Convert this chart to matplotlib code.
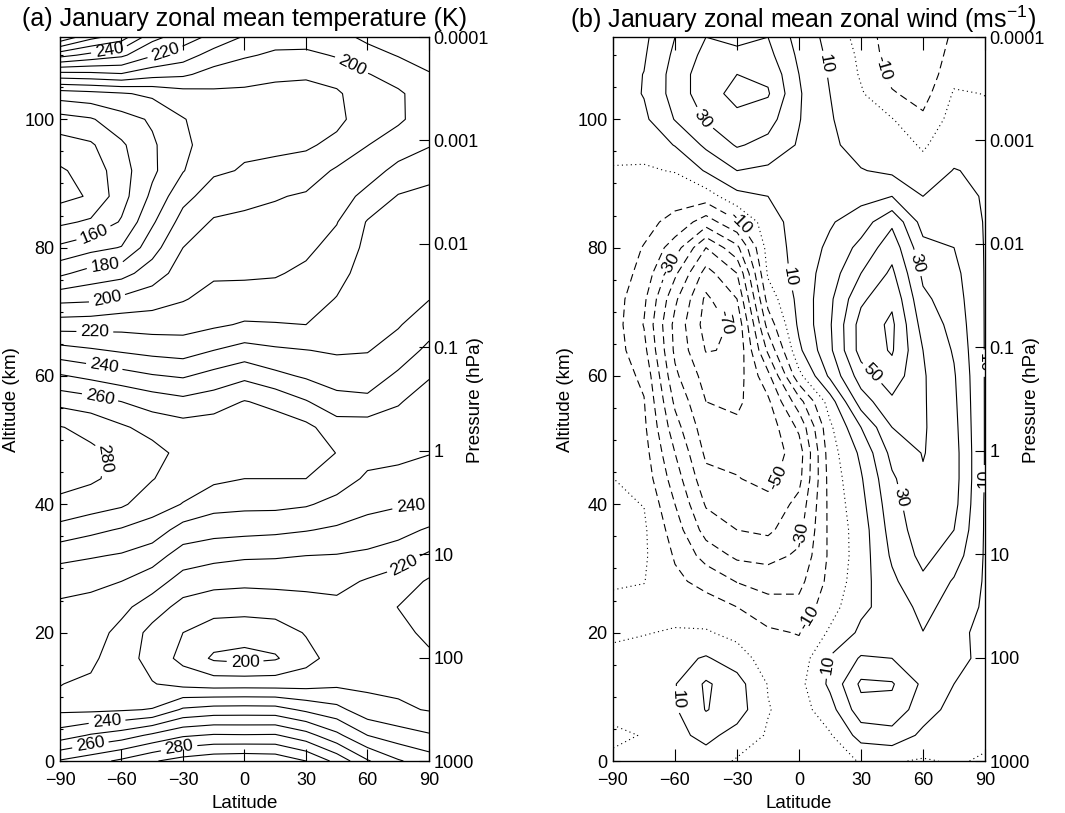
import matplotlib.pyplot as plt
import numpy as np
from matplotlib.ticker import MultipleLocator

plt.rcParams['font.family'] = ['Liberation Sans', 'DejaVu Sans']
plt.rcParams['mathtext.fontset'] = 'custom'
plt.rcParams['mathtext.rm'] = 'Liberation Sans'

# grid: latitude (deg) and log-pressure altitude (km)
lats = [-90, -75, -60, -45, -30, -15, 0, 15, 30, 45, 60, 75, 90]
alts = [0, 4, 8, 12, 16, 20, 24, 28, 32, 36, 40, 44, 48, 52, 56, 60, 64, 68,
        72, 76, 80, 84, 88, 92, 96, 100, 104, 107, 110, 112.8]

# temperature (K), one column per latitude, bottom to top
t_s90 = [271, 245, 228, 230.2, 233, 235.6, 238.4, 243.4, 253, 266.2, 278, 283, 283, 280.5, 267, 251, 233.9, 215.2, 197.1, 177.9, 161.9, 148, 137, 138.8, 145.6, 156.2, 175, 206, 243.6, 278]
t_s75 = [276, 251, 228, 228.5, 232, 234.5, 237.6, 241.8, 251, 262.4, 274.8, 281.5, 282, 277.1, 264.3, 247.5, 231.2, 215.8, 198, 184, 166.8, 151.5, 141, 143.7, 148.6, 159, 176.8, 207, 237, 263]
t_s60 = [282, 255, 229, 225, 224.5, 227, 232.7, 240, 249, 259, 271.5, 277, 278, 271.4, 260, 244, 228.8, 216.4, 202, 186.5, 170.5, 161, 156, 156, 158.5, 166, 179, 209, 232, 255]
t_s45 = [289, 262, 230.5, 220.5, 216.5, 217, 224.8, 234.9, 244.3, 255.9, 264.2, 270.5, 273.5, 266.5, 255.7, 240.8, 226.8, 215.8, 205.3, 194.9, 186, 178.5, 172.3, 168, 168.5, 171.3, 182, 203.6, 221, 233]
t_s30 = [294, 268.7, 241.5, 217.1, 207, 210, 216.7, 225.7, 235.6, 245.7, 259.6, 264.5, 267, 264, 252.8, 239, 225.6, 216.1, 209.3, 204.6, 200, 193.8, 187, 179.5, 178, 179.5, 186.1, 201.7, 214.8, 225]
t_s15 = [297, 271, 244, 215.5, 198.5, 205, 214, 223, 233, 243.5, 253.5, 262, 266.5, 265, 255.4, 243.4, 230, 218.4, 213.2, 208.6, 204.9, 201.1, 194.7, 188.5, 184.5, 184.5, 188, 196.1, 205.8, 217]
t_eq = [298, 270.7, 244.3, 215.7, 197, 204.1, 213.6, 222.2, 231.4, 242.8, 252.5, 260, 265, 265.5, 260.5, 247.7, 233.8, 221, 213.8, 208.6, 205.3, 202, 197.5, 190.7, 188.5, 188, 189, 192, 201.5, 209]
t_n15 = [297, 271, 244, 215.5, 199, 205, 214.5, 222.5, 231, 242, 252.5, 260, 265.5, 265, 257.3, 242.5, 231.5, 220.6, 213.8, 209.2, 206, 202.9, 199.3, 192.1, 188.3, 187.5, 188.5, 191, 198, 205]
t_n30 = [290, 264, 238, 216, 206.5, 210.7, 216.3, 222.5, 230, 240.5, 251, 260, 264.5, 262.5, 250.7, 238.7, 230.2, 220, 215.9, 211.8, 208.1, 204.6, 201.1, 195, 188.5, 187, 188, 190.8, 197.8, 204.5]
t_n45 = [277, 252.5, 233, 218, 214.5, 214.5, 217.5, 223, 229.5, 238.5, 247, 255, 259.8, 254.5, 243.8, 235.1, 228.9, 224.7, 220.4, 216.8, 213.2, 209.6, 205.5, 201.3, 192.7, 187.5, 188.5, 194.3, 200.8, 207]
t_n60 = [261, 240, 224, 218, 214.5, 213.5, 215.5, 219, 228, 236, 242.7, 248.4, 253.5, 255, 242.5, 234.8, 229.5, 227.7, 226, 224.2, 222.4, 220.7, 212.9, 205.6, 199.8, 195.5, 196.5, 199.5, 206.5, 212]
t_n75 = [251, 234.6, 221.6, 217.8, 215.3, 212.8, 209.8, 215.7, 224.2, 233.8, 240.9, 247.1, 252.5, 254.5, 249.1, 241.8, 234.2, 229.2, 227.5, 225.8, 224.1, 222.4, 220.6, 212.9, 204.8, 198.5, 198.5, 204.3, 210.5, 214]
t_n90 = [245, 231, 219.4, 215.6, 211.7, 207.8, 205.3, 208.7, 218.4, 228.6, 240.3, 245.3, 250.4, 254.5, 255, 249.2, 242.4, 235.7, 229.7, 227.7, 225.6, 223.6, 221.6, 218, 209.2, 205, 205.5, 209.5, 213, 216]

# zonal wind (m/s), one column per latitude, bottom to top
u_s90 = [2, -2, 3, 4, 3, -2, -2, 1, 2, 2, 1.5, 0.1, -2, -3, -4, -4.5, -5, -5, -5, -4.5, -4, -3, -2, -0.5, 2, 4, 5, 6, 7, 7]
u_s75 = [3, 0.5, 4, 5, 4, -0.5, -3, 0.3, 1.5, 1.5, -0.2, -4, -6, -8, -9.5, -12, -17, -20.5, -18, -13, -10.5, -7, -4, -1, 3, 8, 10.5, 10.2, 9, 8]
u_s60 = [4, 7, 9, 9.5, 7, 1, -4, -8, -11, -15, -20, -25, -30, -36, -42, -48, -52, -53, -48, -38, -25, -13, -6, 0.5, 10.5, 20.5, 24, 24, 22, 20]
u_s45 = [5, 13, 20.5, 21.5, 11, 1, -6, -13, -24, -34, -41, -47, -52, -56, -60, -64, -70.5, -74, -72, -64, -50, -25, -5, 11, 22, 31, 36, 36, 33, 30]
u_s30 = [-1, 6, 15, 14, 5, -3, -10, -20.5, -32, -40, -45, -49.5, -53, -58, -62, -65, -69, -68, -60, -50, -32.5, -11.5, 7, 20, 31, 37.5, 43, 40, 33, 27]
u_s15 = [-3, -1, 0.5, -0.5, -5, -8.5, -15.5, -24.5, -33, -42, -47, -53, -56, -56, -52, -43, -28, -16, -6, 1.5, 4, 6, 10, 18, 27, 34, 41, 38, 33, 30]
u_eq = [-4, -5, -4.5, -3, -6, -10.5, -17, -23, -28.5, -33, -37, -43, -45, -38, -24, -3, 8, 12, 13, 14, 14, 14, 15, 17, 19, 20.5, 21, 20, 18, 16]
u_n15 = [-3, -1, 6, 12, 11, 1.5, -4, -7, -8, -7.5, -7, -6, -4.5, -2, 5, 22, 28, 29, 28, 25, 22, 19, 16, 13, 12, 11, 10, 9, 8, 7]
u_n30 = [0.5, 14, 26, 32, 21, 12, 8, 6, 5, 5, 7, 9, 12, 20, 35, 45, 54, 54, 48, 40, 33, 25, 17, 10.5, 6, 3, 1, -1, -2, -4]
u_n45 = [1, 16, 27, 31, 20, 13, 14, 18, 21.5, 24, 26, 28.5, 33, 40, 48, 56, 61, 62, 58, 52, 46, 38, 20, 8, 4, 0.5, -9, -13, -15, -15.5]
u_n60 = [-1, 8, 14, 18, 19.5, 19.8, 23, 28, 33, 36, 38, 39, 40.5, 41, 41, 41, 40, 36, 32, 28, 23, 16, 10, 3, -1, -8, -14, -17, -18, -19]
u_n75 = [1, 4, 7, 10, 13, 12, 16, 19, 25, 30, 33, 34, 34, 33, 32, 31, 29, 27, 25, 23, 20, 16, 12, 10.5, 5, 4, 1, -3, -6, -8]
u_n90 = [-1, 2, 4, 6, 7.5, 8, 8.5, 9, 9, 9, 9, 9.5, 9.5, 9.5, 9.5, 9.5, 9.5, 9.5, 9.5, 9.5, 9.5, 9.5, 9.5, 8, 5, 2, -0.2, -1, -2, -3]

press = [1000, 100, 10, 1, 0.1, 0.01, 0.001, 0.0001]
press_labels = ['1000', '100', '10', '1', '0.1', '0.01', '0.001', '0.0001']

# contour labels: (level, lat, alt)
t_labels = [(240, -66, 110.9), (220, -39, 110.7), (200, 52, 108.3),
            (160, -73, 81.8), (180, -68, 77.1), (200, -67, 72.0),
            (220, -73, 67.2), (240, -68, 62.3), (260, -70, 57.4),
            (280, -65, 47.0), (240, 81, 39.7), (220, 77, 31.0),
            (200, 0, 16.5), (240, -67, 5.9), (260, -75, 2.2), (280, -32, 2.2)]
u_labels = [(10, -11, 75), (30, -53, 99), (10, 20, 109), (-10, 41, 108),
            (-10, -28, 84), (-30, -66, 78), (-70, -38, 68), (30, 50, 77),
            (50, 31, 59), (10, 88, 62), (10, 89, 44), (-50, -8, 44),
            (30, 48, 41), (-30, -2, 35.5), (-10, 6, 22), (10, 12, 15),
            (10, -62, 9.5)]

temp = np.array([t_s90, t_s75, t_s60, t_s45, t_s30, t_s15, t_eq,
                 t_n15, t_n30, t_n45, t_n60, t_n75, t_n90]).T
wind = np.array([u_s90, u_s75, u_s60, u_s45, u_s30, u_s15, u_eq,
                 u_n15, u_n30, u_n45, u_n60, u_n75, u_n90]).T

H = 7.0  # scale height used for the pressure axis
ztop = H * np.log(1000 / 0.0001)

fig = plt.figure(figsize=(10.65, 8.13), dpi=100)
ax_t = fig.add_axes([60 / 1065, 52 / 813, 369 / 1065, 724 / 813])
ax_u = fig.add_axes([613 / 1065, 52 / 813, 372 / 1065, 724 / 813])


def setup(ax):
    ax.set_xlim(-90, 90)
    ax.set_ylim(0, ztop)
    ax.set_xticks(range(-90, 91, 30))
    ax.yaxis.set_major_locator(MultipleLocator(20))
    ax.yaxis.set_minor_locator(MultipleLocator(5))
    ax.set_yticks([0, 20, 40, 60, 80, 100])
    ax.tick_params(axis='x', direction='in', top=True, length=9, width=0.8,
                   labelsize=13, pad=8)
    ax.tick_params(axis='y', which='major', direction='in', right=False,
                   length=5, width=0.8, labelsize=13, pad=4)
    ax.tick_params(axis='y', which='minor', direction='in', right=False,
                   length=2.5, width=0.8)
    for s in ax.spines.values():
        s.set_linewidth(0.9)
    ax2 = ax.twinx()
    ax2.set_ylim(0, ztop)
    ax2.set_yticks(H * np.log(1000 / np.array(press)))
    ax2.set_yticklabels(press_labels)
    ax2.tick_params(axis='y', direction='in', length=7.5, width=0.8,
                    labelsize=13, pad=3)
    return ax2


def draw(ax, field, levels, labels, style):
    # one contour set per level so that each label lands on its own level
    for lev in levels:
        if field.min() >= lev or field.max() <= lev:
            continue
        c = ax.contour(lats, alts, field, levels=[lev], colors='k',
                       linewidths=0.8, linestyles=[style])
        pts = [(x, y) for l, x, y in labels if l == lev]
        if pts:
            ax.clabel(c, manual=pts, fmt='%d', fontsize=12.5, inline=True,
                      inline_spacing=4)


setup(ax_t)
setup(ax_u)

# (a) temperature
draw(ax_t, temp, range(130, 300, 10), t_labels, 'solid')

# (b) zonal wind: easterlies dashed, zero dotted, westerlies solid
draw(ax_u, wind, range(-80, 0, 10), u_labels, (0, (7, 4)))
draw(ax_u, wind, [0], u_labels, (0, (1, 3)))
draw(ax_u, wind, range(10, 70, 10), u_labels, 'solid')

# titles and axis labels
fig.text(22 / 1065, 1 - 19 / 813, '(a) January zonal mean temperature (K)',
         fontsize=18, ha='left', va='center')
fig.text(570 / 1065, 1 - 19 / 813,
         '(b) January zonal mean zonal wind (ms$^{\\mathregular{-1}}$)',
         fontsize=18, ha='left', va='center')
for xl, xr, xc in [(12, 476, 244.5), (565, 1031, 799)]:
    fig.text(xl / 1065, 1 - 400 / 813, 'Altitude (km)', rotation=90,
             fontsize=13.5, ha='center', va='center')
    fig.text(xr / 1065, 1 - 400 / 813, 'Pressure (hPa)', rotation=90,
             fontsize=13.5, ha='center', va='center')
    fig.text(xc / 1065, 1 - 803 / 813, 'Latitude', fontsize=13.5,
             ha='center', va='center')

fig.savefig('out.png', dpi=100)
